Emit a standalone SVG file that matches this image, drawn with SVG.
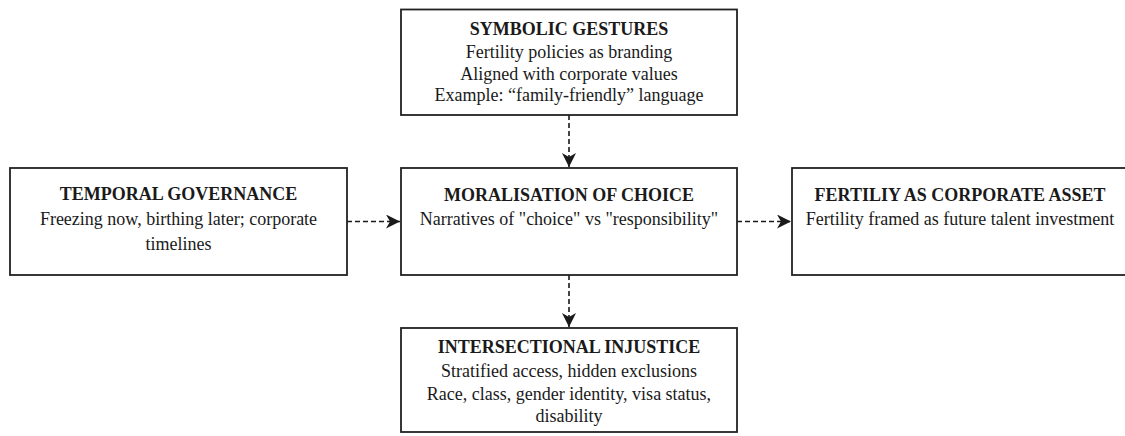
<svg xmlns="http://www.w3.org/2000/svg" width="1125" height="436" viewBox="0 0 1125 436">
<style>
.box{fill:#ffffff;stroke:#222222;stroke-width:1.8}
.t{font-family:"Liberation Serif","Times New Roman",serif;font-size:18px;fill:#1a1a1a;text-anchor:middle}
.b{font-weight:bold}
.c{fill:none;stroke:#1a1a1a;stroke-width:1.6;stroke-dasharray:5 3}
</style>
<defs>
<marker id="ah" markerWidth="15" markerHeight="14" refX="14" refY="7" orient="auto" markerUnits="userSpaceOnUse">
<path d="M0,0 L14,7 L0,14 L4,7 Z" fill="#1a1a1a"/>
</marker>
</defs>
<rect width="1125" height="436" fill="#ffffff"/>
<g id="connectors">
<line class="c" x1="569" y1="115" x2="569" y2="167" marker-end="url(#ah)"/>
<line class="c" x1="569" y1="275" x2="569" y2="327" marker-end="url(#ah)"/>
<line class="c" x1="347" y1="221.5" x2="400" y2="221.5" marker-end="url(#ah)"/>
<line class="c" x1="737" y1="221.5" x2="791" y2="221.5" marker-end="url(#ah)"/>
</g>
<g id="symbolic-gestures">
<rect class="box" x="401" y="9.5" width="336" height="105.5"/>
<text class="t b" x="569" y="35">SYMBOLIC GESTURES</text>
<text class="t" x="569" y="57.5">Fertility policies as branding</text>
<text class="t" x="569" y="79.5">Aligned with corporate values</text>
<text class="t" x="569" y="101">Example: “family-friendly” language</text>
</g>
<g id="temporal-governance">
<rect class="box" x="10" y="168" width="337" height="107"/>
<text class="t b" x="178.5" y="200">TEMPORAL GOVERNANCE</text>
<text class="t" x="178.5" y="225">Freezing now, birthing later; corporate</text>
<text class="t" x="178.5" y="250">timelines</text>
</g>
<g id="moralisation-of-choice">
<rect class="box" x="401" y="168" width="336" height="107"/>
<text class="t b" x="569" y="200.5">MORALISATION OF CHOICE</text>
<text class="t" x="569" y="225">Narratives of "choice" vs "responsibility"</text>
</g>
<g id="fertility-asset">
<rect class="box" x="792" y="168" width="336" height="107"/>
<text class="t b" x="960" y="200.5">FERTILIY AS CORPORATE ASSET</text>
<text class="t" x="960" y="225">Fertility framed as future talent investment</text>
</g>
<g id="intersectional-injustice">
<rect class="box" x="401" y="328" width="336" height="104"/>
<text class="t b" x="569" y="353">INTERSECTIONAL INJUSTICE</text>
<text class="t" x="569" y="377">Stratified access, hidden exclusions</text>
<text class="t" x="569" y="400">Race, class, gender identity, visa status,</text>
<text class="t" x="569" y="422">disability</text>
</g>
</svg>
